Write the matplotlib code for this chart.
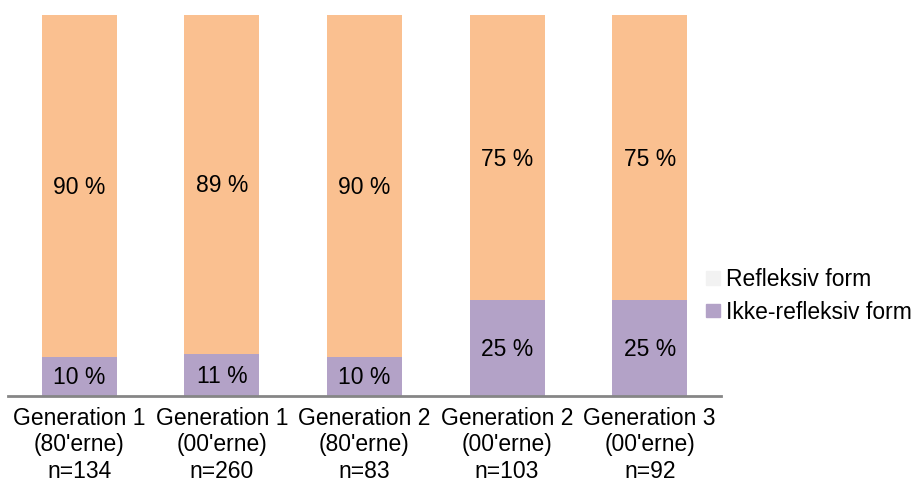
import matplotlib
matplotlib.use("Agg")
import matplotlib.pyplot as plt
from matplotlib.patches import Patch

categories = ["Generation 1\n(80'erne)\nn=134", "Generation 1\n(00'erne)\nn=260",
              "Generation 2\n(80'erne)\nn=83", "Generation 2\n(00'erne)\nn=103",
              "Generation 3\n(00'erne)\nn=92"]
ikke_refleksiv = [10, 11, 10, 25, 25]
refleksiv = [90, 89, 90, 75, 75]
series_names = ["Refleksiv form", "Ikke-refleksiv form"]

plt.rcParams['font.family'] = ['Liberation Sans', 'DejaVu Sans']
FS = 16.5
c_ref = '#FAC090'
c_ikke = '#B3A2C7'

fig = plt.figure(figsize=(9.19, 4.83), dpi=100)
ax = fig.add_axes([8/919, (483-395.5)/483, 713/919, 380.5/483])

x = list(range(len(categories)))
w = 0.526
ax.bar(x, ikke_refleksiv, width=w, color=c_ikke)
ax.bar(x, refleksiv, width=w, bottom=ikke_refleksiv, color=c_ref)

for i in x:
    ax.text(i, ikke_refleksiv[i] / 2 - 0.4, f"{ikke_refleksiv[i]} %", ha='center', va='center', fontsize=FS)
    ax.text(i, ikke_refleksiv[i] + refleksiv[i] / 2 - 0.4, f"{refleksiv[i]} %", ha='center', va='center', fontsize=FS)

ax.set_xlim(-0.5, len(categories) - 0.5)
ax.set_ylim(0, 100)
ax.set_yticks([])
for s in ['top', 'right', 'left']:
    ax.spines[s].set_visible(False)
ax.spines['bottom'].set_color('#868686')
ax.spines['bottom'].set_linewidth(2)
ax.set_xticks(x)
ax.set_xticklabels(categories, fontsize=FS, linespacing=1.2)
ax.tick_params(axis='x', length=0, pad=8)

handles = [Patch(color='#F2F2F2'), Patch(color=c_ikke)]
fig.legend(handles, series_names, loc='center left', bbox_to_anchor=(695/919, 1 - 296/483),
           frameon=False, fontsize=FS, handlelength=0.6, handleheight=0.55, handletextpad=0.25,
           labelspacing=0.4, borderpad=0)

fig.savefig("out.png", dpi=100)
